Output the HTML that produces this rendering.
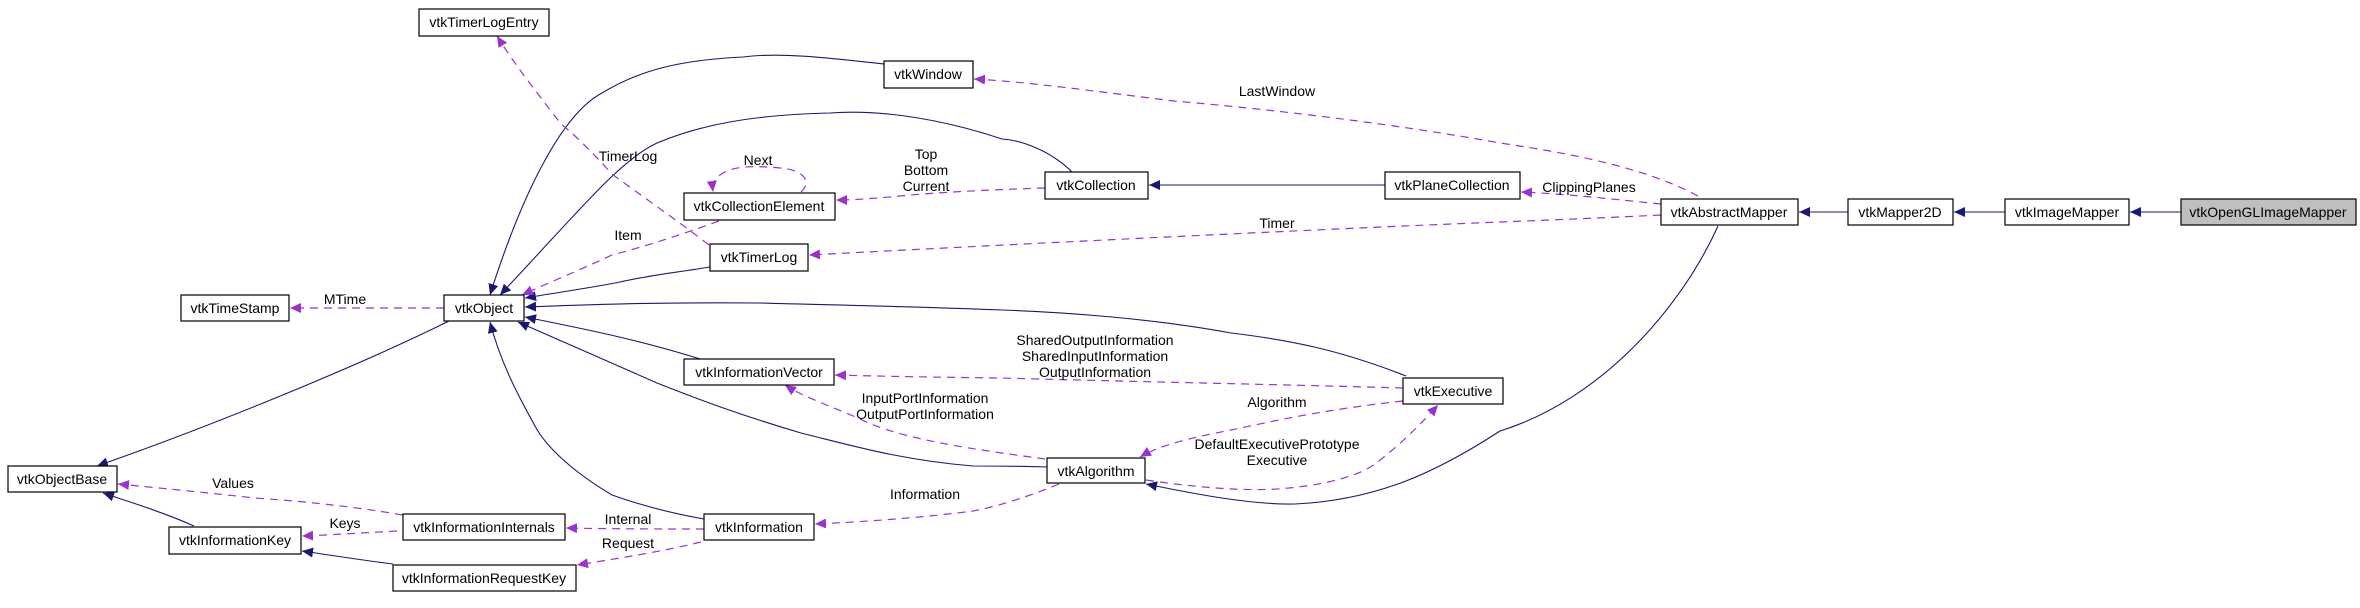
<!DOCTYPE html>
<html><head><meta charset="utf-8"><style>
html,body{margin:0;padding:0;background:#fff;}
svg{display:block;}
text{font-family:"Liberation Sans",sans-serif;font-size:14px;fill:#000;}
.b{fill:#fff;stroke:#000;stroke-width:1.2;}
.s{fill:none;stroke:#191970;stroke-width:1.1;}
.d{fill:none;stroke:#9a32cd;stroke-width:1.2;stroke-dasharray:8,6;}
</style></head><body>
<svg width="2360" height="608" viewBox="0 0 2360 608" xmlns="http://www.w3.org/2000/svg">
<defs>
<marker id="an" markerUnits="userSpaceOnUse" markerWidth="12" markerHeight="10" refX="11" refY="5" orient="auto"><path d="M0,0 L11,5 L0,10 z" fill="#191970"/></marker>
<marker id="ap" markerUnits="userSpaceOnUse" markerWidth="12" markerHeight="10" refX="11" refY="5" orient="auto"><path d="M0,0 L11,5 L0,10 z" fill="#9a32cd"/></marker>
</defs>

<!-- solid inheritance edges -->
<path class="s" marker-end="url(#an)" d="M2181,212 L2130,212"/>
<path class="s" marker-end="url(#an)" d="M2005,212 L1954,212"/>
<path class="s" marker-end="url(#an)" d="M1848,212 L1799,212"/>
<path class="s" marker-end="url(#an)" d="M1385,185 L1149,185"/>
<path class="s" marker-end="url(#an)" d="M1718,226 C1680,310 1600,400 1500,431 C1440,470 1380,500 1295,504 C1250,505 1190,493 1146,484"/>
<path class="s" marker-end="url(#an)" d="M884,64 C830,58 780,52 743,57 C680,60 640,70 602,93 C560,115 520,200 490,295"/>
<path class="s" marker-end="url(#an)" d="M1072,172 C1050,150 1020,140 1002,139 C930,115 870,110 830,113 C750,115 700,125 657,143 C620,160 580,210 500,295"/>
<path class="s" marker-end="url(#an)" d="M710,267 C680,272 650,275 620,282 C590,288 560,292 525,298"/>
<path class="s" marker-end="url(#an)" d="M1406,376 C1340,350 1290,340 1231,333 C1150,318 1060,312 1002,310 C900,306 830,305 760,303 C650,302 580,305 525,307"/>
<path class="s" marker-end="url(#an)" d="M700,359 C640,340 580,328 525,317"/>
<path class="s" marker-end="url(#an)" d="M1048,467 C1010,466 990,466 973,466 C900,460 850,445 801,433 C740,415 700,400 657,383 C610,362 570,345 518,322"/>
<path class="s" marker-end="url(#an)" d="M704,519 C670,513 640,505 612,495 C570,470 545,445 535,426 C515,390 500,360 490,322"/>
<path class="s" marker-end="url(#an)" d="M449,321 C350,370 200,430 97,466"/>
<path class="s" marker-end="url(#an)" d="M194,526 C165,513 130,502 103,493"/>
<path class="s" marker-end="url(#an)" d="M393,564 C360,560 330,555 302,551"/>

<!-- dashed usage edges -->
<path class="d" marker-end="url(#ap)" d="M444,308 L290,308"/>
<text x="345" y="304" text-anchor="middle">MTime</text>
<path class="d" marker-end="url(#ap)" d="M709,245 C670,215 640,195 612,174 C590,150 575,135 561,124 C535,90 515,65 497,36"/>
<text x="628" y="161" text-anchor="middle">TimerLog</text>
<path class="d" marker-end="url(#ap)" d="M719,221 C680,235 650,245 612,255 C580,270 550,282 522,295"/>
<text x="628" y="240" text-anchor="middle">Item</text>
<path class="d" marker-end="url(#ap)" d="M801,192 C812,182 805,170 780,168 C760,166 740,166 730,170 C715,175 712,183 713,192"/>
<text x="758" y="165" text-anchor="middle">Next</text>
<path class="d" marker-end="url(#ap)" d="M1045,188 C980,190 930,193 900,196 C870,199 850,200 836,200"/>
<text x="926" y="159" text-anchor="middle">Top</text>
<text x="926" y="175" text-anchor="middle">Bottom</text>
<text x="926" y="191" text-anchor="middle">Current</text>
<path class="d" marker-end="url(#ap)" d="M1698,196 C1640,165 1560,152 1500,143 C1400,125 1280,110 1174,101 C1100,92 1030,82 974,79"/>
<text x="1277" y="96" text-anchor="middle">LastWindow</text>
<path class="d" marker-end="url(#ap)" d="M1661,204 C1620,200 1570,194 1521,192"/>
<text x="1589" y="192" text-anchor="middle">ClippingPlanes</text>
<path class="d" marker-end="url(#ap)" d="M1661,215 C1600,218 1550,220 1500,222 C1300,230 1000,245 809,255"/>
<text x="1277" y="228" text-anchor="middle">Timer</text>
<path class="d" marker-end="url(#ap)" d="M1403,388 C1300,385 1150,382 1000,378 C920,377 870,376 835,375"/>
<text x="1095" y="345" text-anchor="middle">SharedOutputInformation</text>
<text x="1095" y="361" text-anchor="middle">SharedInputInformation</text>
<text x="1095" y="377" text-anchor="middle">OutputInformation</text>
<path class="d" marker-end="url(#ap)" d="M1045,459 C980,450 900,440 858,418 C820,402 800,395 785,385"/>
<text x="925" y="403" text-anchor="middle">InputPortInformation</text>
<text x="925" y="419" text-anchor="middle">OutputPortInformation</text>
<path class="d" marker-end="url(#ap)" d="M1403,401 C1320,410 1270,422 1231,430 C1190,438 1160,445 1140,457"/>
<text x="1277" y="407" text-anchor="middle">Algorithm</text>
<path class="d" marker-end="url(#ap)" d="M1146,480 C1200,488 1250,492 1289,488 C1330,484 1360,475 1375,464 C1400,445 1420,425 1438,405"/>
<text x="1277" y="449" text-anchor="middle">DefaultExecutivePrototype</text>
<text x="1277" y="465" text-anchor="middle">Executive</text>
<path class="d" marker-end="url(#ap)" d="M1059,484 C1020,500 990,508 973,511 C920,518 860,522 815,524"/>
<text x="925" y="499" text-anchor="middle">Information</text>
<path class="d" marker-end="url(#ap)" d="M704,529 C660,529 620,529 566,528"/>
<text x="628" y="524" text-anchor="middle">Internal</text>
<path class="d" marker-end="url(#ap)" d="M701,542 C660,552 620,558 577,565"/>
<text x="628" y="548" text-anchor="middle">Request</text>
<path class="d" marker-end="url(#ap)" d="M403,515 C350,506 300,501 255,498 C200,492 160,488 118,484"/>
<text x="233" y="488" text-anchor="middle">Values</text>
<path class="d" marker-end="url(#ap)" d="M397,531 C360,533 330,535 302,536"/>
<text x="345" y="528" text-anchor="middle">Keys</text>

<!-- nodes -->
<g>
<rect class="b" x="419" y="9" width="130" height="27"/><text x="484" y="27" text-anchor="middle">vtkTimerLogEntry</text>
<rect class="b" x="181" y="295" width="108" height="26"/><text x="235" y="313" text-anchor="middle">vtkTimeStamp</text>
<rect class="b" x="444" y="295" width="80" height="26"/><text x="484" y="313" text-anchor="middle">vtkObject</text>
<rect class="b" x="8" y="466" width="109" height="26"/><text x="62" y="484" text-anchor="middle">vtkObjectBase</text>
<rect class="b" x="169" y="527" width="132" height="27"/><text x="235" y="545" text-anchor="middle">vtkInformationKey</text>
<rect class="b" x="403" y="514" width="162" height="26"/><text x="484" y="532" text-anchor="middle">vtkInformationInternals</text>
<rect class="b" x="393" y="565" width="183" height="26"/><text x="484" y="583" text-anchor="middle">vtkInformationRequestKey</text>
<rect class="b" x="684" y="193" width="151" height="27"/><text x="759" y="211" text-anchor="middle">vtkCollectionElement</text>
<rect class="b" x="710" y="244" width="98" height="27"/><text x="759" y="262" text-anchor="middle">vtkTimerLog</text>
<rect class="b" x="684" y="359" width="150" height="26"/><text x="759" y="377" text-anchor="middle">vtkInformationVector</text>
<rect class="b" x="704" y="514" width="110" height="26"/><text x="759" y="532" text-anchor="middle">vtkInformation</text>
<rect class="b" x="884" y="61" width="89" height="27"/><text x="928" y="79" text-anchor="middle">vtkWindow</text>
<rect class="b" x="1045" y="172" width="103" height="27"/><text x="1096" y="190" text-anchor="middle">vtkCollection</text>
<rect class="b" x="1385" y="172" width="135" height="27"/><text x="1452" y="190" text-anchor="middle">vtkPlaneCollection</text>
<rect class="b" x="1403" y="378" width="100" height="26"/><text x="1453" y="396" text-anchor="middle">vtkExecutive</text>
<rect class="b" x="1047" y="458" width="98" height="25"/><text x="1096" y="476" text-anchor="middle">vtkAlgorithm</text>
<rect class="b" x="1661" y="199" width="137" height="26"/><text x="1729" y="217" text-anchor="middle">vtkAbstractMapper</text>
<rect class="b" x="1848" y="199" width="105" height="26"/><text x="1900" y="217" text-anchor="middle">vtkMapper2D</text>
<rect class="b" x="2005" y="199" width="124" height="26"/><text x="2067" y="217" text-anchor="middle">vtkImageMapper</text>
<rect x="2181" y="199" width="175" height="26" fill="#bfbfbf" stroke="#000" stroke-width="1.2"/><text x="2268" y="217" text-anchor="middle">vtkOpenGLImageMapper</text>
</g>
</svg>
</body></html>
